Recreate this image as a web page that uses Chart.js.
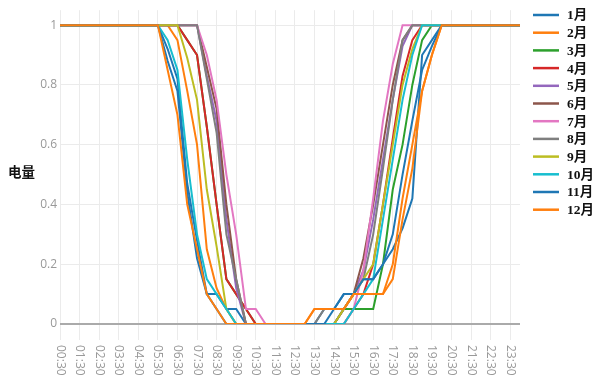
<!DOCTYPE html>
<html>
<head>
<meta charset="utf-8">
<script src="https://cdn.jsdelivr.net/npm/chart.js@4.4.1/dist/chart.umd.min.js"></script>
<style>
  html, body { margin: 0; padding: 0; background: #fff; }
  #wrap { position: relative; width: 605px; height: 383px; }
</style>
</head>
<body>
<div id="wrap"><canvas id="dianliang"></canvas></div>
<script>
// half-hour slots, 00:30 ... 24:00
const times = ['00:30', '01:00', '01:30', '02:00', '02:30', '03:00', '03:30', '04:00', '04:30', '05:00',
  '05:30', '06:00', '06:30', '07:00', '07:30', '08:00', '08:30', '09:00', '09:30', '10:00',
  '10:30', '11:00', '11:30', '12:00', '12:30', '13:00', '13:30', '14:00', '14:30', '15:00',
  '15:30', '16:00', '16:30', '17:00', '17:30', '18:00', '18:30', '19:00', '19:30', '20:00',
  '20:30', '21:00', '21:30', '22:00', '22:30', '23:00', '23:30', '00:00'];

const months = ['1月', '2月', '3月', '4月', '5月', '6月', '7月', '8月', '9月', '10月', '11月', '12月'];
const colors = ['#1f77b4', '#ff7f0e', '#2ca02c', '#d62728', '#9467bd', '#8c564b',
  '#e377c2', '#7f7f7f', '#bcbd22', '#17becf', '#1f77b4', '#ff7f0e'];

const jan = [1, 1, 1, 1, 1, 1, 1, 1, 1, 1,
  1, 0.92, 0.82, 0.47, 0.28, 0.1, 0.1, 0.05, 0.05, 0,
  0, 0, 0, 0, 0, 0, 0, 0.05, 0.05, 0.1,
  0.1, 0.15, 0.15, 0.2, 0.25, 0.32, 0.42, 0.9, 0.95, 1,
  1, 1, 1, 1, 1, 1, 1, 1];
const feb = [1, 1, 1, 1, 1, 1, 1, 1, 1, 1,
  1, 1, 0.95, 0.78, 0.6, 0.25, 0.12, 0.05, 0, 0,
  0, 0, 0, 0, 0, 0, 0.05, 0.05, 0.05, 0.05,
  0.1, 0.1, 0.1, 0.1, 0.15, 0.35, 0.52, 0.78, 0.9, 1,
  1, 1, 1, 1, 1, 1, 1, 1];
const mar = [1, 1, 1, 1, 1, 1, 1, 1, 1, 1,
  1, 1, 1, 0.95, 0.9, 0.66, 0.4, 0.15, 0.1, 0.05,
  0, 0, 0, 0, 0, 0, 0, 0, 0, 0.05,
  0.05, 0.05, 0.05, 0.2, 0.45, 0.6, 0.8, 0.95, 1, 1,
  1, 1, 1, 1, 1, 1, 1, 1];
const apr = [1, 1, 1, 1, 1, 1, 1, 1, 1, 1,
  1, 1, 1, 0.95, 0.9, 0.66, 0.4, 0.15, 0.1, 0.05,
  0, 0, 0, 0, 0, 0, 0, 0, 0, 0,
  0.05, 0.1, 0.2, 0.4, 0.62, 0.83, 0.95, 1, 1, 1,
  1, 1, 1, 1, 1, 1, 1, 1];
const may = [1, 1, 1, 1, 1, 1, 1, 1, 1, 1,
  1, 1, 1, 1, 1, 0.83, 0.68, 0.35, 0.12, 0,
  0, 0, 0, 0, 0, 0, 0, 0, 0, 0.05,
  0.1, 0.18, 0.35, 0.55, 0.75, 0.93, 1, 1, 1, 1,
  1, 1, 1, 1, 1, 1, 1, 1];
const jun = [1, 1, 1, 1, 1, 1, 1, 1, 1, 1,
  1, 1, 1, 1, 1, 0.86, 0.72, 0.4, 0.15, 0,
  0, 0, 0, 0, 0, 0, 0, 0, 0, 0.05,
  0.1, 0.22, 0.4, 0.6, 0.8, 0.95, 1, 1, 1, 1,
  1, 1, 1, 1, 1, 1, 1, 1];
const jul = [1, 1, 1, 1, 1, 1, 1, 1, 1, 1,
  1, 1, 1, 1, 1, 0.9, 0.75, 0.5, 0.3, 0.05,
  0.05, 0, 0, 0, 0, 0, 0, 0, 0, 0,
  0.05, 0.18, 0.42, 0.68, 0.87, 1, 1, 1, 1, 1,
  1, 1, 1, 1, 1, 1, 1, 1];
const aug = [1, 1, 1, 1, 1, 1, 1, 1, 1, 1,
  1, 1, 1, 1, 1, 0.82, 0.64, 0.3, 0.15, 0,
  0, 0, 0, 0, 0, 0, 0, 0.05, 0.05, 0.05,
  0.1, 0.15, 0.3, 0.52, 0.75, 0.95, 1, 1, 1, 1,
  1, 1, 1, 1, 1, 1, 1, 1];
const sep = [1, 1, 1, 1, 1, 1, 1, 1, 1, 1,
  1, 1, 1, 0.89, 0.75, 0.45, 0.26, 0.05, 0, 0,
  0, 0, 0, 0, 0, 0, 0, 0, 0, 0.05,
  0.1, 0.15, 0.2, 0.4, 0.6, 0.8, 0.92, 1, 1, 1,
  1, 1, 1, 1, 1, 1, 1, 1];
const oct = [1, 1, 1, 1, 1, 1, 1, 1, 1, 1,
  1, 0.95, 0.85, 0.55, 0.3, 0.15, 0.1, 0.05, 0, 0,
  0, 0, 0, 0, 0, 0, 0, 0, 0, 0,
  0.05, 0.1, 0.15, 0.35, 0.55, 0.75, 0.9, 1, 1, 1,
  1, 1, 1, 1, 1, 1, 1, 1];
const nov = [1, 1, 1, 1, 1, 1, 1, 1, 1, 1,
  1, 0.88, 0.78, 0.44, 0.22, 0.1, 0.05, 0, 0, 0,
  0, 0, 0, 0, 0, 0, 0, 0, 0.05, 0.1,
  0.1, 0.15, 0.15, 0.2, 0.3, 0.5, 0.68, 0.85, 0.93, 1,
  1, 1, 1, 1, 1, 1, 1, 1];
const dec = [1, 1, 1, 1, 1, 1, 1, 1, 1, 1,
  1, 0.85, 0.7, 0.4, 0.25, 0.1, 0.05, 0, 0, 0,
  0, 0, 0, 0, 0, 0, 0.05, 0.05, 0.05, 0.05,
  0.1, 0.1, 0.1, 0.1, 0.2, 0.42, 0.6, 0.78, 0.9, 1,
  1, 1, 1, 1, 1, 1, 1, 1];

const series = [jan, feb, mar, apr, may, jun, jul, aug, sep, oct, nov, dec];

// x labels (rotated, reading downward), y title and legend drawn by hand
const decor = {
  id: 'decor',
  afterDraw(chart) {
    const ctx = chart.ctx;
    const x = chart.scales.x;
    ctx.save();
    ctx.fillStyle = '#999';
    ctx.font = '12px "Open Sans"';
    ctx.textAlign = 'left';
    ctx.textBaseline = 'middle';
    times.forEach((t, i) => {
      if (i % 2) return;
      ctx.save();
      ctx.translate(x.getPixelForValue(i), 345);
      ctx.rotate(Math.PI / 2);
      ctx.fillText(t, 0, 0);
      ctx.restore();
    });

    ctx.fillStyle = '#111';
    ctx.font = 'bold 13.5px "Noto Sans CJK SC"';
    ctx.textAlign = 'left';
    ctx.fillText('电量', 8, 172);

    ctx.font = 'bold 13.5px "Liberation Serif", "Noto Sans CJK SC"';
    chart.data.datasets.forEach((ds, i) => {
      const y = 15 + i * 17.7;
      ctx.strokeStyle = ds.borderColor;
      ctx.lineWidth = 2.5;
      ctx.beginPath();
      ctx.moveTo(533, y);
      ctx.lineTo(559, y);
      ctx.stroke();
      ctx.fillText(ds.label, 567, y + 1);
    });
    ctx.restore();
  }
};

new Chart(document.getElementById('dianliang'), {
  type: 'line',
  data: {
    labels: times,
    datasets: months.map((m, i) => ({
      label: m,
      data: series[i],
      borderColor: colors[i],
      backgroundColor: colors[i],
      borderWidth: 2,
      pointRadius: 0,
      tension: 0,
      order: 11 - i
    }))
  },
  options: {
    responsive: true,
    maintainAspectRatio: false,
    animation: false,
    layout: { padding: { top: 9, right: 85, bottom: 0, left: 0 } },
    plugins: { legend: { display: false }, tooltip: { enabled: false } },
    scales: {
      x: {
        type: 'category',
        offset: false,
        ticks: { display: false },
        border: { display: false },
        grid: {
          color: c => c.index % 2 === 0 ? '#ebebeb' : 'rgba(0,0,0,0)',
          tickColor: c => c.index % 2 === 0 ? '#ebebeb' : 'rgba(0,0,0,0)',
          tickLength: 16
        },
        afterFit: s => { s.height = 59; }
      },
      y: {
        min: 0,
        max: 1.05,
        border: { display: false },
        ticks: {
          stepSize: 0.2,
          includeBounds: false,
          padding: 3,
          color: '#999',
          font: { family: 'Open Sans', size: 12 },
          callback: v => String(Math.round(v * 10) / 10)
        },
        grid: {
          drawTicks: false,
          color: c => c.tick && c.tick.value === 0 ? '#aaaaaa' : '#ebebeb',
          lineWidth: c => c.tick && c.tick.value === 0 ? 2 : 1
        },
        afterFit: s => { s.width = 60; }
      }
    }
  },
  plugins: [decor]
});
</script>
</body>
</html>
